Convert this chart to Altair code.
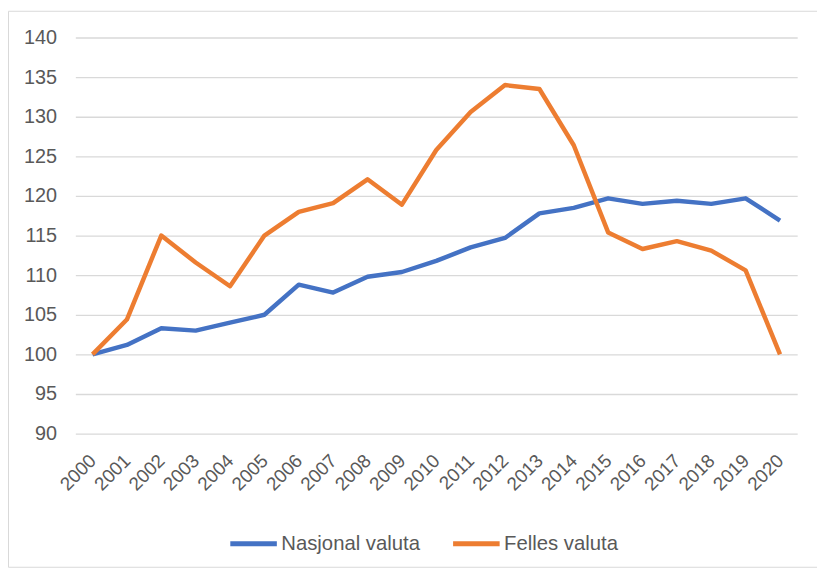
import altair as alt
import pandas as pd

years = ["2000", "2001", "2002", "2003", "2004", "2005", "2006", "2007", "2008", "2009", "2010",
         "2011", "2012", "2013", "2014", "2015", "2016", "2017", "2018", "2019", "2020"]
nasjonal = [100.0, 101.2, 103.3, 103.0, 104.0, 105.0, 108.8, 107.8, 109.8, 110.4, 111.8,
            113.5, 114.7, 117.8, 118.5, 119.7, 119.0, 119.4, 119.0, 119.7, 116.9]
felles = [100.0, 104.4, 115.0, 111.6, 108.6, 115.0, 118.0, 119.1, 122.1, 118.9, 125.8,
          130.6, 134.0, 133.5, 126.4, 115.4, 113.3, 114.3, 113.1, 110.6, 100.0]
series_names = ["Nasjonal valuta", "Felles valuta"]
colors = ["#4472C4", "#ED7D31"]
y_ticks = [90, 95, 100, 105, 110, 115, 120, 125, 130, 135, 140]

df = pd.DataFrame({
    "year": years + years,
    "value": nasjonal + felles,
    "series": [series_names[0]] * len(years) + [series_names[1]] * len(years),
})

FONT = "Liberation Sans, Arial"
TXT = "#595959"

lines = alt.Chart(df).mark_line(strokeWidth=4.5, strokeJoin="round").encode(
    x=alt.X("year:O", sort=years, title=None,
            axis=alt.Axis(labelAngle=-45, labelAlign="right", labelBaseline="middle",
                          labelPadding=24, labelFontSize=19, labelFont=FONT, labelColor=TXT,
                          domain=False, ticks=False, grid=False, labelOverlap=False)),
    y=alt.Y("value:Q", title=None,
            scale=alt.Scale(domain=[90, 140], nice=False, zero=False),
            axis=alt.Axis(values=y_ticks, labelFontSize=20, labelFont=FONT, labelColor=TXT,
                          labelPadding=19, domain=False, ticks=False, grid=True,
                          gridColor="#D9D9D9", gridWidth=1.3)),
    color=alt.Color("series:N", scale=alt.Scale(domain=series_names, range=colors),
                    legend=alt.Legend(title=None, orient="none", direction="horizontal",
                                      legendX=154, legendY=485, symbolType="stroke",
                                      symbolSize=2209, symbolStrokeWidth=5,
                                      labelFontSize=20.5, labelFont=FONT, labelColor=TXT,
                                      labelOffset=2, columnPadding=22, padding=0)),
)

frame = alt.Chart(pd.DataFrame({"a": [0]})).mark_rect(
    fillOpacity=0, stroke="#D9D9D9", strokeWidth=1, clip=False
).encode(
    x=alt.value(-67.5), x2=alt.value(760), y=alt.value(-26.5), y2=alt.value(535)
)

chart = alt.layer(frame, lines).properties(
    width=729, height=400,
    autosize=alt.AutoSizeParams(type="none"),
    padding={"left": 68, "top": 27, "right": 20, "bottom": 142},
    background="white",
).configure_view(stroke=None)

chart.save("out.html", embed_options={"renderer": "svg", "actions": False})
